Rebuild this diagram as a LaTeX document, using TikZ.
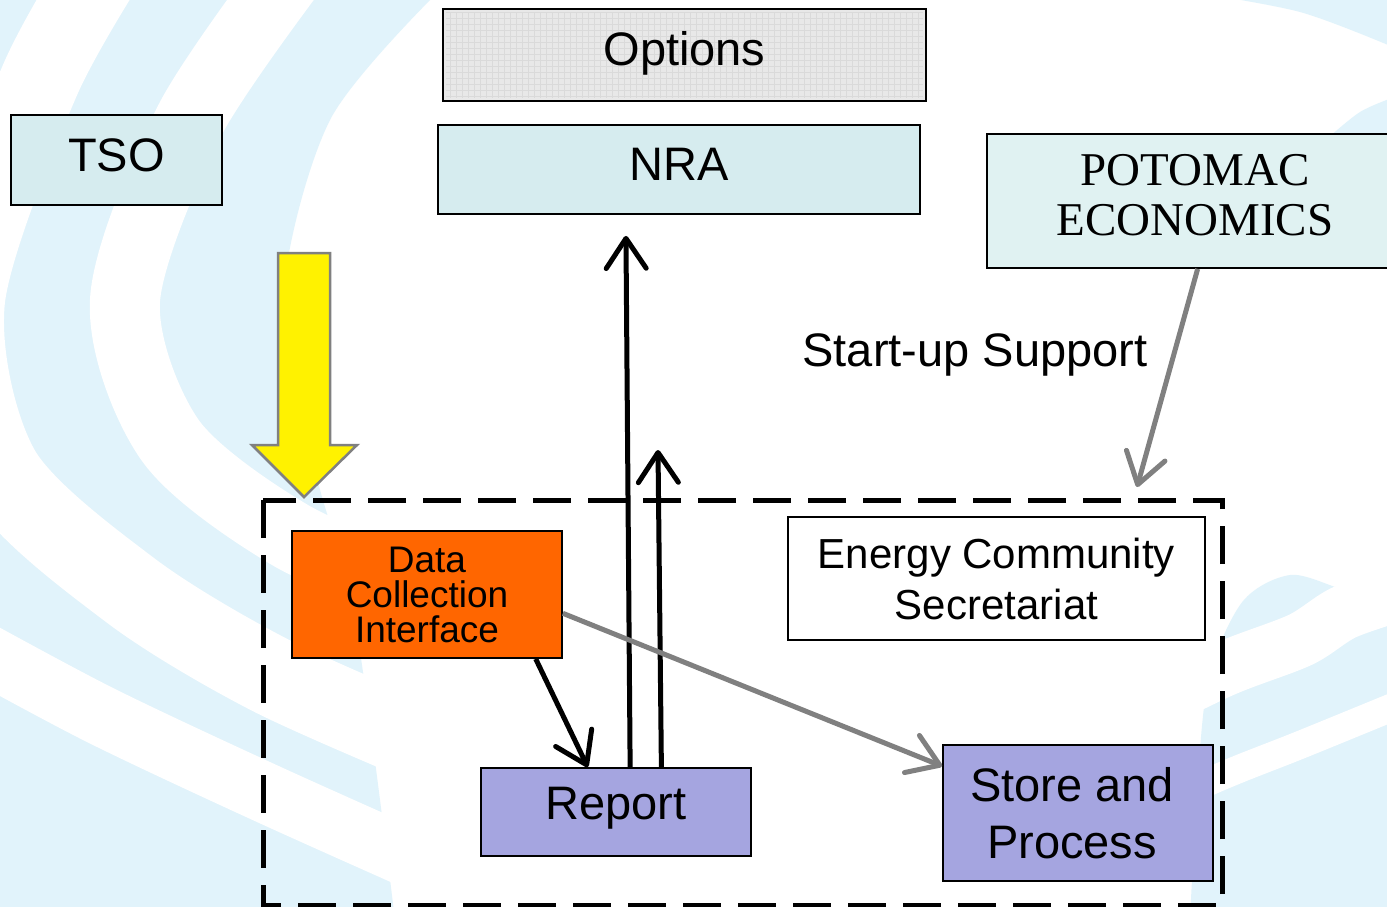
\documentclass[tikz,border=0pt]{standalone}
\usepackage{fontspec}
\setmainfont{Liberation Sans}
\newfontfamily\timesf{Liberation Serif}
\usetikzlibrary{arrows.meta,calc}
\definecolor{bgb}{HTML}{E1F3FB}
\definecolor{boxcyan}{HTML}{D6ECEF}
\definecolor{potcyan}{HTML}{E0F2F2}
\definecolor{optgray}{HTML}{E8E8E8}
\definecolor{gridgray}{HTML}{DADADA}
\definecolor{dciorange}{HTML}{FF6600}
\definecolor{lav}{HTML}{A5A5E0}
\definecolor{arrgray}{HTML}{808080}
\tikzset{
  box/.style={draw=black, line width=1.8pt, inner sep=0pt, align=center, font=\fontsize{47}{50}\selectfont},
  lbl/.style={align=center, font=\fontsize{47}{50}\selectfont},
  blackarrow/.style={draw=black, line width=5pt, -{Straight Barb[length=30pt,width=40pt,round]}},
  grayarrow/.style={draw=arrgray, line width=5pt, -{Straight Barb[length=30pt,width=40pt,round]}},
  band/.style={draw=white},
}
\begin{document}
\begin{tikzpicture}[x=1pt,y=-1pt]
\useasboundingbox (0,0) rectangle (1387,907);
% background swirl
\begin{scope}
\clip (0,0) rectangle (1387,907);
\fill[white] (0,0) rectangle (1387,907);
\fill[bgb] plot[smooth] coordinates {(440,-10) (330,120) (283,300) (315,470) (355,620) (395,920)} -- (-10,920) -- (-10,-10) -- cycle;
\draw[band, line width=70pt] plot[smooth] coordinates {(300,-40) (190,120) (125,300) (170,440) (290,535) (440,600)};
\draw[band, line width=80pt] plot[smooth] coordinates {(120,-60) (40,80) (-35,300) (0,470) (130,590) (270,675) (440,750)};
\draw[band, line width=60pt] plot[smooth] coordinates {(-40,640) (100,715) (270,795) (460,880)};
\fill[bgb] plot[smooth] coordinates {(1190,920) (1205,700) (1240,605) (1290,575) (1345,590) (1400,600)} -- (1400,920) -- cycle;
\draw[band, line width=55pt] plot[smooth] coordinates {(1120,720) (1222,670) (1300,640) (1345,612) (1410,590)};
\draw[band, line width=28pt] plot[smooth] coordinates {(1100,830) (1222,776) (1300,745) (1410,700)};
\fill[bgb] plot[smooth] coordinates {(1180,-10) (1300,12) (1400,50)} -- (1400,-10) -- cycle;
\fill[bgb] plot[smooth] coordinates {(1320,145) (1360,112) (1400,95)} -- (1400,145) -- cycle;
\end{scope}

% boxes
\node[box, draw=none, fill=optgray, minimum width=481pt, minimum height=90pt] (opt) at (684.5,55) {};
\begin{scope}
\clip ([shift={(3pt,3pt)}]opt.south west) rectangle ([shift={(-3pt,-3pt)}]opt.north east);
\draw[gridgray, line width=0.4pt, step=6pt] (opt.south west) grid (opt.north east);
\end{scope}
\draw[black, line width=1.8pt] (opt.south west) rectangle (opt.north east);
\node[lbl] (optt) at (684.5,53) {Options};

\node[box, fill=boxcyan, minimum width=482pt, minimum height=89pt] (nra) at (679,169.5) {};
\node[lbl] (nrat) at (679,164) {NRA};
\node[box, fill=boxcyan, minimum width=211pt, minimum height=90pt] (tso) at (116.5,160) {};
\node[lbl] (tsot) at (116.5,155) {TSO};
\node[box, fill=potcyan, minimum width=405pt, minimum height=134pt] (pot) at (1189.5,201) {};
\node[font=\timesf\fontsize{47}{50}\selectfont, align=center] (pott) at (1195,195) {POTOMAC\\ECONOMICS};
\node[lbl] (sus) at (975,355) {Start-up Support};

% yellow arrow
\draw[fill=yellow, draw=arrgray, line width=2.5pt, line join=miter]
  (278,253) -- (330,253) -- (330,445) -- (357,445) -- (304,497) -- (252,445) -- (278,445) -- cycle;

% dashed container
\draw[black, line width=5pt, dash pattern=on 38pt off 17pt] (263,500) rectangle (1222,905);

\node[box, fill=dciorange, minimum width=270pt, minimum height=127pt, font=\fontsize{37}{35}\selectfont] (dci) at (427,594.5) {Data\\Collection\\Interface};
\node[box, fill=white, minimum width=417pt, minimum height=123pt, font=\fontsize{42}{51}\selectfont] (ecs) at (996.5,578.5) {Energy Community\\Secretariat};
\node[box, fill=lav, minimum width=270pt, minimum height=88pt] (rep) at (616,812) {};
\node[lbl] (rept) at (616,808) {Report};
\node[box, fill=lav, minimum width=270pt, minimum height=136pt] (sto) at (1078,813) {};
\node[font=\fontsize{47}{57}\selectfont, align=center] (stot) at (1072,813) {Store and\\Process};

\coordinate (upend) at (658,450);
\coordinate (supend) at (1137,487);

% connectors
\draw[blackarrow] ($(dci.south west)!0.9!(dci.south east)$) -- ($(rep.north west)!0.396!(rep.north east)$);
\draw[blackarrow, shorten >=21pt] ($(rep.north west)!0.552!(rep.north east)$) -- ($(nra.south west)!0.39!(nra.south east)$);
\draw[blackarrow] ($(rep.north west)!0.667!(rep.north east)$) -- (upend);
\draw[grayarrow] ($(dci.north east)!0.646!(dci.south east)$) -- ($(sto.north west)!0.16!(sto.south west)$);
\draw[grayarrow] ($(pot.south west)!0.52!(pot.south east)$) -- (supend);
\end{tikzpicture}
\end{document}
